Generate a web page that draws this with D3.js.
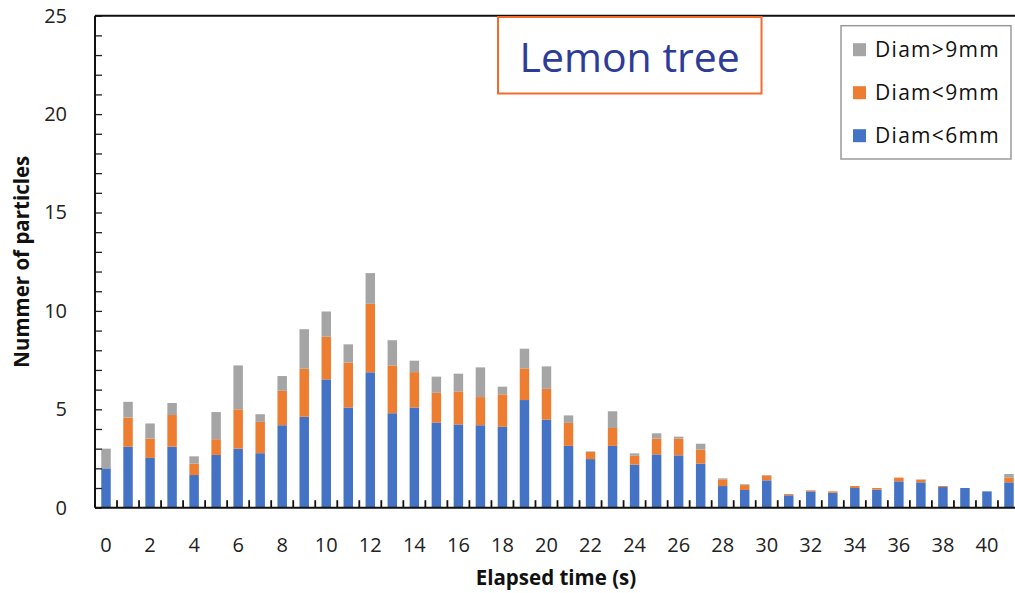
<!DOCTYPE html>
<html>
<head>
<meta charset="utf-8">
<script src="https://cdn.jsdelivr.net/npm/d3@7/dist/d3.min.js"></script>
<style>
  html, body { margin: 0; padding: 0; background: #fff; }
  svg { display: block; }
</style>
</head>
<body>
<svg id="chart" width="1015" height="593"></svg>
<script>
// Elapsed time categories (s)
const times = d3.range(0, 42);
const tickLabels = d3.range(0, 41, 2);
const yTicks = d3.range(0, 26);
const yLabels = [0, 5, 10, 15, 20, 25];

// Mean number of particles per size class (stacked from the bottom)
const diamLt6 = [2.0, 3.1, 2.53, 3.1, 1.66, 2.68, 3.0, 2.77, 4.19, 4.62,
  6.52, 5.09, 6.88, 4.8, 5.09, 4.33, 4.23, 4.19, 4.11, 5.47,
  4.48, 3.14, 2.47, 3.14, 2.19, 2.71, 2.66, 2.24, 1.1, 0.9,
  1.39, 0.63, 0.83, 0.76, 1.0, 0.92, 1.34, 1.29, 1.05, 1.0,
  0.83, 1.29];
const diamLt9 = [0, 1.48, 0.98, 1.61, 0.58, 0.8, 2.0, 1.59, 1.75, 2.44,
  2.17, 2.28, 3.48, 2.43, 1.8, 1.51, 1.68, 1.43, 1.65, 1.61,
  1.56, 1.17, 0.36, 0.91, 0.45, 0.8, 0.85, 0.71, 0.34, 0.25,
  0.25, 0.06, 0.05, 0.07, 0.1, 0.08, 0.19, 0.13, 0.05, 0,
  0, 0.24];
const diamGt9 = [1.0, 0.8, 0.77, 0.61, 0.37, 1.38, 2.23, 0.39, 0.75, 2.01,
  1.28, 0.93, 1.56, 1.28, 0.58, 0.82, 0.9, 1.51, 0.39, 1.0,
  1.14, 0.38, 0.03, 0.85, 0.12, 0.27, 0.1, 0.3, 0.05, 0.04,
  0.02, 0, 0, 0, 0, 0, 0, 0.02, 0, 0,
  0, 0.18];

const seriesNames = ["Diam<6mm", "Diam<9mm", "Diam>9mm"];
const seriesColors = ["#4472C4", "#ED7D31", "#A5A5A5"];
const title = "Lemon tree";

const rows = times.map((t, i) => ({
  t: t,
  "Diam<6mm": diamLt6[i],
  "Diam<9mm": diamLt9[i],
  "Diam>9mm": diamGt9[i]
}));

const svg = d3.select("#chart");
const plotLeft = 95, plotRight = 1020, plotTop = 15.7, plotBottom = 507.7;

const x = d3.scaleBand()
  .domain(times)
  .range([plotLeft, plotRight])
  .paddingInner(0.57)
  .paddingOuter(0.285);

const y = d3.scaleLinear().domain([0, 25]).range([plotBottom, plotTop]);

const color = d3.scaleOrdinal().domain(seriesNames).range(seriesColors);

const stacked = d3.stack().keys(seriesNames)(rows);

// Stacked bars
svg.append("g")
  .selectAll("g")
  .data(stacked)
  .join("g")
  .attr("fill", d => color(d.key))
  .selectAll("rect")
  .data(d => d)
  .join("rect")
  .attr("x", d => x(d.data.t))
  .attr("y", d => y(d[1]))
  .attr("width", x.bandwidth())
  .attr("height", d => Math.max(0, y(d[0]) - y(d[1])));

// Y axis: inward ticks every unit, labels every 5
const yAxis = svg.append("g")
  .attr("transform", `translate(${plotLeft},0)`)
  .call(d3.axisLeft(y)
    .tickValues(yTicks)
    .tickSize(-7)
    .tickPadding(28)
    .tickFormat(d => yLabels.includes(d) ? d : ""));
yAxis.select(".domain").remove();
yAxis.selectAll(".tick line").attr("stroke", "#222").attr("stroke-width", 1.3);
yAxis.selectAll("text")
  .attr("font-family", "'Open Sans', sans-serif")
  .attr("font-size", 20)
  .attr("fill", "#222");

// X axis: labels every 2 s under the bars, inward ticks between categories
const xAxis = svg.append("g")
  .attr("transform", `translate(0,${plotBottom})`)
  .call(d3.axisBottom(x)
    .tickValues(tickLabels)
    .tickSize(0)
    .tickPadding(30));
xAxis.select(".domain").remove();
xAxis.selectAll("text")
  .attr("font-family", "'Open Sans', sans-serif")
  .attr("font-size", 20)
  .attr("fill", "#222");

svg.append("g")
  .selectAll("line")
  .data(times.slice(1))
  .join("line")
  .attr("x1", d => x(d) - x.step() * x.paddingInner() / 2)
  .attr("x2", d => x(d) - x.step() * x.paddingInner() / 2)
  .attr("y1", plotBottom)
  .attr("y2", plotBottom - 7.5)
  .attr("stroke", "#111")
  .attr("stroke-width", 1.8);

// Frame lines: left, bottom and top
svg.append("line")
  .attr("x1", plotLeft).attr("x2", plotLeft)
  .attr("y1", plotTop).attr("y2", plotBottom)
  .attr("stroke", "#111").attr("stroke-width", 2);
svg.append("line")
  .attr("x1", plotLeft).attr("x2", 1015)
  .attr("y1", plotBottom).attr("y2", plotBottom)
  .attr("stroke", "#111").attr("stroke-width", 2);
svg.append("line")
  .attr("x1", plotLeft).attr("x2", 1015)
  .attr("y1", plotTop).attr("y2", plotTop)
  .attr("stroke", "#111").attr("stroke-width", 2);

// Axis titles
svg.append("text")
  .attr("transform", `translate(29,${(plotTop + plotBottom) / 2}) rotate(-90)`)
  .attr("text-anchor", "middle")
  .attr("font-family", "'Open Sans', sans-serif")
  .attr("font-weight", "bold")
  .attr("font-size", 20.5)
  .attr("fill", "#111")
  .text("Nummer of particles");

svg.append("text")
  .attr("x", 556)
  .attr("y", 585)
  .attr("text-anchor", "middle")
  .attr("font-family", "'Open Sans', sans-serif")
  .attr("font-weight", "bold")
  .attr("font-size", 20.5)
  .attr("fill", "#111")
  .text("Elapsed time (s)");

// Title box
svg.append("rect")
  .attr("x", 498).attr("y", 17)
  .attr("width", 263.5).attr("height", 76.5)
  .attr("fill", "#fff")
  .attr("stroke", "#F26B2A")
  .attr("stroke-width", 2);
svg.append("text")
  .attr("x", 629.7)
  .attr("y", 72)
  .attr("text-anchor", "middle")
  .attr("font-family", "'Open Sans', sans-serif")
  .attr("font-size", 41)
  .attr("fill", "#2E3B97")
  .text(title);

// Legend (top series listed first)
const legend = svg.append("g");
legend.append("rect")
  .attr("x", 841).attr("y", 25.7)
  .attr("width", 170).attr("height", 133.3)
  .attr("fill", "#fff")
  .attr("stroke", "#9A9A9A")
  .attr("stroke-width", 1.5);
const legendOrder = seriesNames.slice().reverse();
const item = legend.selectAll("g.item")
  .data(legendOrder)
  .join("g")
  .attr("class", "item")
  .attr("transform", (d, i) => `translate(853,${49.7 + i * 43})`);
item.append("rect")
  .attr("x", 0).attr("y", -6.5)
  .attr("width", 13).attr("height", 13)
  .attr("fill", d => color(d));
item.append("text")
  .attr("x", 22)
  .attr("y", 7.5)
  .attr("font-family", "'Open Sans', sans-serif")
  .attr("font-size", 21)
  .attr("letter-spacing", 1.3)
  .attr("fill", "#111")
  .text(d => d);
</script>
</body>
</html>
